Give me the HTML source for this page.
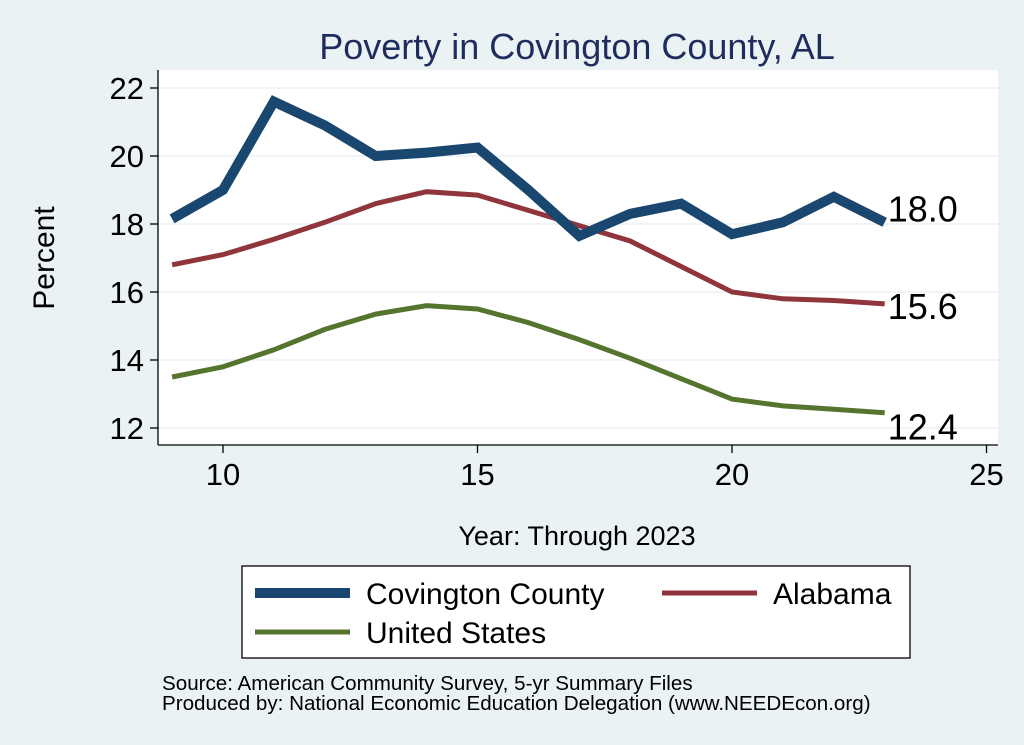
<!DOCTYPE html>
<html><head><meta charset="utf-8"><style>
body{margin:0;background:#eaf2f3;font-family:"Liberation Sans",sans-serif}
svg{display:block}
</style></head><body>
<svg id="chart" width="1024" height="745" xmlns="http://www.w3.org/2000/svg">
<rect width="1024" height="745" fill="#eaf2f3"/>
<text x="577" y="59" font-size="36" fill="#1e2d5e" text-anchor="middle">Poverty in Covington County, AL</text>
<rect x="158" y="70" width="840" height="375" fill="#fff"/>
<g id="grid"></g><g id="axes"></g><g id="series"></g>
<text x="54" y="258" font-size="30" text-anchor="middle" transform="rotate(-90 54 258)">Percent</text>
<text x="577" y="545" font-size="27" text-anchor="middle">Year: Through 2023</text>
<g>
<rect x="242" y="566" width="668" height="92" fill="#fff" stroke="#000" stroke-width="1.3"/>
<line x1="255" y1="593" x2="350" y2="593" stroke="#1a476f" stroke-width="10"/>
<text x="366" y="604" font-size="30">Covington County</text>
<line x1="662" y1="593" x2="757" y2="593" stroke="#90353b" stroke-width="5"/>
<text x="773" y="604" font-size="30">Alabama</text>
<line x1="255" y1="632" x2="350" y2="632" stroke="#55752f" stroke-width="5"/>
<text x="366" y="643" font-size="30">United States</text>
</g>
<text x="162" y="690" font-size="20.6">Source: American Community Survey, 5-yr Summary Files</text>
<text x="162" y="710" font-size="20.6">Produced by: National Economic Education Delegation (www.NEEDEcon.org)</text>
</svg>
<script>
const years=[9,10,11,12,13,14,15,16,17,18,19,20,21,22,23];
const covington=[18.15,19.0,21.6,20.9,20.0,20.1,20.25,19.0,17.65,18.3,18.6,17.7,18.05,18.8,18.05];
const alabama=[16.8,17.1,17.55,18.05,18.6,18.95,18.85,18.4,17.95,17.5,16.75,16.0,15.8,15.75,15.65];
const unitedStates=[13.5,13.8,14.3,14.9,15.35,15.6,15.5,15.1,14.6,14.05,13.45,12.85,12.65,12.55,12.45];
const yTicks=[12,14,16,18,20,22];
const xTicks=[10,15,20,25];
const endLabels=["18.0","15.6","12.4"];
const NS="http://www.w3.org/2000/svg";
const X=v=>223+(v-10)*50.9;
const Y=v=>428-(v-12)*34;
function mk(tag,attrs,parent,txt){const e=document.createElementNS(NS,tag);for(const k in attrs)e.setAttribute(k,attrs[k]);if(txt!==undefined)e.textContent=txt;parent.appendChild(e);return e;}
const grid=document.getElementById('grid'),axes=document.getElementById('axes'),ser=document.getElementById('series');
mk('line',{x1:158,y1:70,x2:158,y2:445,stroke:'#000','stroke-width':1.3},axes);
mk('line',{x1:158,y1:445,x2:998,y2:445,stroke:'#000','stroke-width':1.3},axes);
yTicks.forEach(t=>{
 const g=mk('line',{x1:158,y1:Y(t),x2:998,y2:Y(t),stroke:'#eaf2f3','stroke-width':1.5},grid);
 
 
 mk('line',{x1:150,y1:Y(t),x2:158,y2:Y(t),stroke:'#000','stroke-width':1.3},axes);
 const l=mk('text',{x:144,y:Y(t)+11,'font-size':31,'text-anchor':'end'},axes,String(t));
 
 
});
xTicks.forEach(t=>{
 mk('line',{x1:X(t),y1:445,x2:X(t),y2:453,stroke:'#000','stroke-width':1.3},axes);
 const l=mk('text',{x:X(t),y:485,'font-size':31,'text-anchor':'middle'},axes,String(t));
 
 
});
const S=[[covington,'#1a476f',10,'covington-line'],[alabama,'#90353b',5,'alabama-line'],[unitedStates,'#55752f',5,'us-line']];
[S[2],S[1],S[0]].forEach(s=>{
 const p=mk('polyline',{points:years.map((y,i)=>X(y)+','+Y(s[0][i])).join(' '),fill:'none',stroke:s[1],'stroke-width':s[2],'stroke-linejoin':'miter'},ser);
 
 
});
S.forEach((s,i)=>{
 const v=s[0][s[0].length-1];
 const off=[-1,15,27][i];
 const t=mk('text',{x:X(years[years.length-1])+3,y:Y(v)+off,'font-size':36},ser,endLabels[i]);
 
 
});
</script>
</body></html>
